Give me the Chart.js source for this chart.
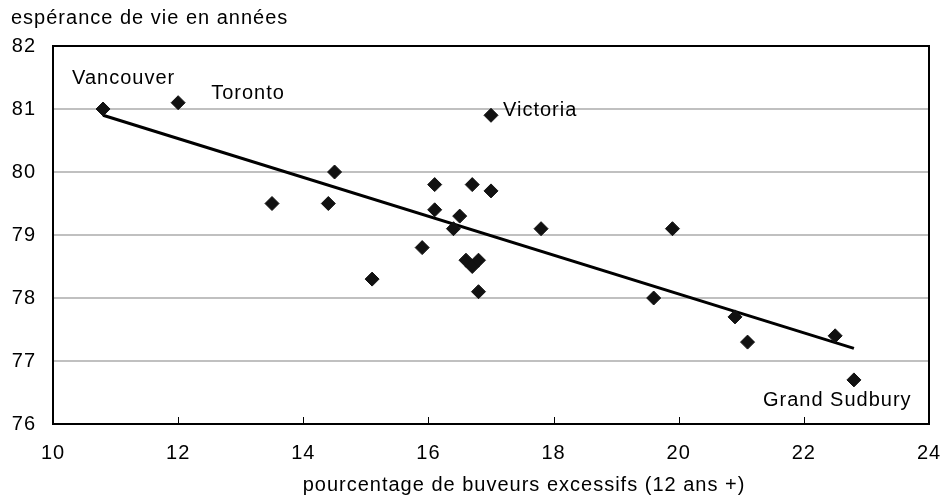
<!DOCTYPE html>
<html>
<head>
<meta charset="utf-8">
<script src="https://cdn.jsdelivr.net/npm/chart.js@4/dist/chart.umd.min.js"></script>
<style>
  body { margin: 0; background: #fff; }
  #wrap { width: 944px; height: 496px; }
</style>
</head>
<body>
<div id="wrap"><canvas id="graphVie" width="944" height="496"></canvas></div>
<script>
// pourcentage de buveurs excessifs (x) et espérance de vie (y), une ligne par région
let buveurs   = [10.8, 12.0, 17.0, 22.8, 14.5, 13.5, 14.4, 15.1, 15.9, 16.1, 16.1, 16.4, 16.5,
                 16.6, 16.7, 16.7, 16.8, 16.8, 17.0, 17.8, 19.6, 19.9, 20.9, 21.1, 22.5];
let esperance = [81.0, 81.1, 80.9, 76.7, 80.0, 79.5, 79.5, 78.3, 78.8, 79.8, 79.4, 79.1, 79.3,
                 78.6, 79.8, 78.5, 78.6, 78.1, 79.7, 79.1, 78.0, 79.1, 77.7, 77.3, 77.4];
// les 4 premiers points portent un nom
let villes = ['Vancouver', 'Toronto', 'Victoria', 'Grand Sudbury'];

// droite de tendance
let tendanceX = [10.8, 22.8];
let tendanceY = [80.9, 77.2];

let titreY = 'espérance de vie en années';
let titreX = 'pourcentage de buveurs excessifs (12 ans +)';

let police = '"Liberation Sans", Arial, sans-serif';
let taille = 20;
let espacement = '1px';

Chart.defaults.font.family = police;
Chart.defaults.font.size = taille;
Chart.defaults.color = '#000';

let pointsData = buveurs.map(function(v, i){ return { x: v, y: esperance[i] }; });
let tendanceData = tendanceX.map(function(v, i){ return { x: v, y: tendanceY[i] }; });

const cadrePlugin = {
    id: 'cadre',
    beforeUpdate(chart){
        chart.ctx.letterSpacing = espacement;
    },
    beforeDraw(chart){
        chart.ctx.letterSpacing = espacement;
    },
    beforeDatasetsDraw(chart){
        const ctx = chart.ctx;
        const a = chart.chartArea;
        const sx = chart.scales.x;
        ctx.save();
        ctx.strokeStyle = '#000';
        ctx.lineWidth = 2;
        ctx.strokeRect(a.left, a.top, a.right - a.left, a.bottom - a.top);
        // graduations vers l'intérieur
        ctx.lineWidth = 1;
        ctx.beginPath();
        for(let i=1; i<sx.ticks.length-1; i++){
            let px = Math.round(sx.getPixelForTick(i)) + 0.5;
            ctx.moveTo(px, a.bottom);
            ctx.lineTo(px, a.bottom - 7);
        }
        ctx.stroke();
        ctx.restore();
    },
    afterDatasetsDraw(chart, args, opts){
        const ctx = chart.ctx;
        const meta = chart.getDatasetMeta(0);
        ctx.save();
        ctx.font = taille + 'px ' + police;
        ctx.fillStyle = '#000';
        ctx.textAlign = 'left';
        ctx.textBaseline = 'middle';
        for(let i=0; i<villes.length; i++){
            let pt = meta.data[i];
            let d = opts.decalages[i];
            ctx.fillText(villes[i], pt.x + d[0], pt.y + d[1]);
        }
        ctx.restore();
    },
    afterDraw(chart, args, opts){
        const ctx = chart.ctx;
        ctx.save();
        ctx.font = taille + 'px ' + police;
        ctx.fillStyle = '#000';
        ctx.textAlign = 'center';
        ctx.textBaseline = 'alphabetic';
        ctx.fillText(titreX, opts.titreXPos[0], opts.titreXPos[1]);
        ctx.restore();
    }
};

let ctxVie = document.getElementById('graphVie');
new Chart(ctxVie, {
    type: 'scatter',
    data: {
        datasets: [
            {
                label: 'Régions',
                data: pointsData,
                pointStyle: 'rectRot',
                pointRadius: 7,
                pointBorderWidth: 1,
                backgroundColor: '#111',
                borderColor: '#111',
                order: 1
            },
            {
                label: 'Tendance',
                type: 'line',
                data: tendanceData,
                showLine: true,
                pointRadius: 0,
                borderColor: '#000',
                borderWidth: 3,
                fill: false,
                order: 2
            }
        ]
    },
    options: {
        responsive: false,
        animation: false,
        layout: { padding: { left: 11, right: 15, top: 0, bottom: 0 } },
        scales: {
            x: {
                type: 'linear',
                min: 10,
                max: 24,
                ticks: { stepSize: 2, padding: 17, maxRotation: 0 },
                grid: { display: false, drawTicks: false },
                border: { display: false },
                afterFit: function(scale){
                    scale.height = 72;
                    scale.paddingLeft = 0;
                    scale.paddingRight = 0;
                }
            },
            y: {
                type: 'linear',
                min: 76,
                max: 82,
                ticks: { stepSize: 1, padding: 17 },
                grid: { color: '#c0c0c0', lineWidth: 2, drawTicks: false },
                border: { display: false },
                afterFit: function(scale){
                    scale.width = 42;
                    scale.paddingTop = 0;
                    scale.paddingBottom = 0;
                }
            }
        },
        plugins: {
            legend: { display: false },
            tooltip: { enabled: false },
            title: {
                display: true,
                text: titreY,
                align: 'start',
                font: { size: taille, weight: 'normal' },
                padding: { top: 6, bottom: 16 }
            },
            cadre: {
                decalages: [[-31, -31], [33, -9], [12, -5], [-91, 21]],
                titreXPos: [524, 491]
            }
        }
    },
    plugins: [cadrePlugin]
});
</script>
</body>
</html>
